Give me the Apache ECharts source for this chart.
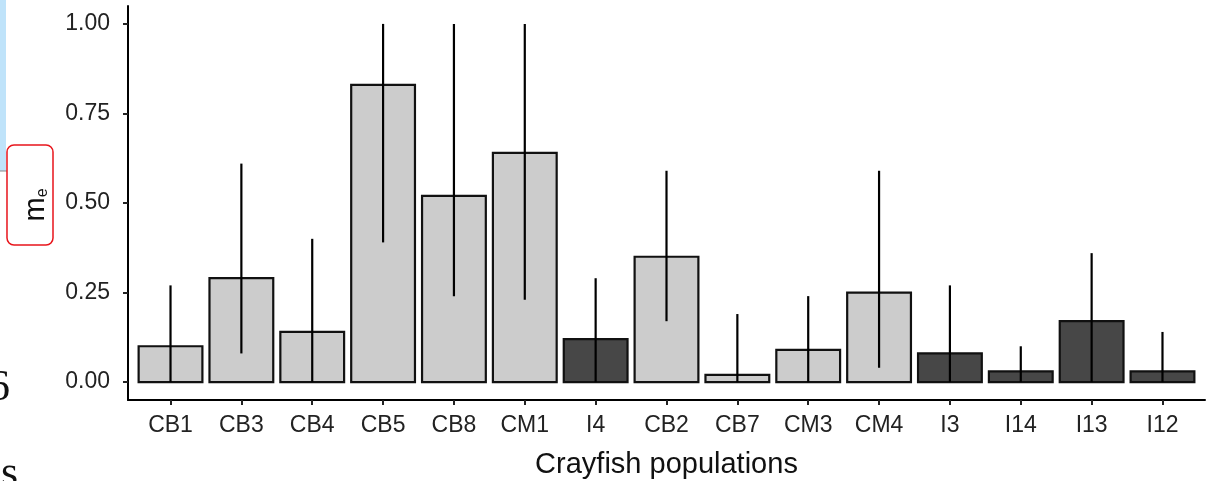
<!DOCTYPE html>
<html>
<head>
<meta charset="utf-8">
<script src="https://cdn.jsdelivr.net/npm/echarts@6/dist/echarts.min.js"></script>
<style>
  html, body { margin: 0; padding: 0; background: #fff; }
  #chart { width: 1206px; height: 481px; }
</style>
</head>
<body>
<div id="chart"></div>
<script>
// populations in plotted order
var categories = ["CB1", "CB3", "CB4", "CB5", "CB8", "CM1", "I4", "CB2", "CB7", "CM3", "CM4", "I3", "I14", "I13", "I12"];
var meValues = [0.10, 0.29, 0.14, 0.83, 0.52, 0.64, 0.12, 0.35, 0.02, 0.09, 0.25, 0.08, 0.03, 0.17, 0.03];
var lowerCI = [0.00, 0.08, 0.00, 0.39, 0.24, 0.23, 0.00, 0.17, 0.00, 0.00, 0.04, 0.00, 0.00, 0.00, 0.00];
var upperCI = [0.27, 0.61, 0.40, 1.00, 1.00, 1.00, 0.29, 0.59, 0.19, 0.24, 0.59, 0.27, 0.10, 0.36, 0.14];
// 1 = introduced (dark bars)
var groups = [0, 0, 0, 0, 0, 0, 1, 0, 0, 0, 0, 1, 1, 1, 1];
var yTicks = [0, 0.25, 0.5, 0.75, 1];

var barData = categories.map(function (c, i) {
  return [i + 1, meValues[i], groups[i]];
});
var errData = categories.map(function (c, i) {
  return [i + 1, lowerCI[i], upperCI[i]];
});
var xTicks = categories.map(function (c, i) { return i + 1; });

var chart = echarts.init(document.getElementById("chart"));

var option = {
  animation: false,
  grid: { left: 128, right: 1, top: 6, bottom: 81, outerBoundsMode: "none", containLabel: false },
  xAxis: {
    type: "value",
    min: 0.4,
    max: 15.6,
    splitLine: { show: false },
    axisLine: { show: true, onZero: false, lineStyle: { color: "#000", width: 2 } },
    axisTick: { show: true, length: 5, lineStyle: { color: "#222", width: 2 }, customValues: xTicks },
    axisLabel: {
      color: "#222",
      fontSize: 23,
      fontFamily: "Liberation Sans, Arial",
      margin: 14,
      customValues: xTicks,
      formatter: function (v) { return categories[Math.round(v) - 1]; }
    },
    name: "Crayfish populations",
    nameLocation: "middle",
    nameGap: 50,
    nameTextStyle: { color: "#111", fontSize: 29, fontFamily: "Liberation Sans, Arial" }
  },
  yAxis: {
    type: "value",
    min: -0.05,
    max: 1.05,
    splitLine: { show: false },
    axisLine: { show: true, lineStyle: { color: "#000", width: 2 } },
    axisTick: { show: true, length: 5, lineStyle: { color: "#222", width: 2 }, customValues: yTicks },
    axisLabel: {
      color: "#222",
      fontSize: 23,
      fontFamily: "Liberation Sans, Arial",
      margin: 18,
      customValues: yTicks,
      formatter: function (v) { return v.toFixed(2); }
    }
  },
  series: [
    {
      type: "custom",
      data: barData,
      renderItem: function (params, api) {
        var x = api.value(0);
        var top = api.coord([x, api.value(1)]);
        var base = api.coord([x, 0]);
        var w = api.size([0.9, 0])[0];
        return {
          type: "rect",
          shape: { x: top[0] - w / 2, y: top[1], width: w, height: base[1] - top[1] },
          style: {
            fill: api.value(2) === 1 ? "#474747" : "#CCCCCC",
            stroke: "#111",
            lineWidth: 2.2
          }
        };
      }
    },
    {
      type: "custom",
      data: errData,
      z: 3,
      renderItem: function (params, api) {
        var x = api.value(0);
        var lo = api.coord([x, api.value(1)]);
        var hi = api.coord([x, api.value(2)]);
        return {
          type: "line",
          shape: { x1: lo[0], y1: lo[1], x2: hi[0], y2: hi[1] },
          style: { stroke: "#000", lineWidth: 2.2 }
        };
      }
    }
  ],
  graphic: [
    { type: "rect", left: 0, top: 0, shape: { width: 6, height: 171 }, style: { fill: "#BFE3FA" } },
    { type: "line", shape: { x1: 0, y1: 171, x2: 7, y2: 171 }, style: { stroke: "#888", lineWidth: 1 } },
    {
      type: "rect",
      shape: { x: 7, y: 145, width: 46, height: 100, r: 7 },
      style: { fill: "#fff", stroke: "#E8141B", lineWidth: 1.5 }
    },
    {
      type: "text",
      x: 36, y: 205,
      rotation: Math.PI / 2,
      style: {
        text: "{m|m}{e|e}",
        align: "center",
        verticalAlign: "middle",
        rich: {
          m: { fontSize: 29, fontFamily: "Liberation Sans, Arial", fill: "#111" },
          e: { fontSize: 16, fontFamily: "Liberation Sans, Arial", fill: "#111", verticalAlign: "bottom" }
        }
      }
    },
    {
      type: "text", x: -12, y: 366,
      style: { text: "6", fontSize: 44, fontFamily: "Liberation Serif, Times New Roman", fill: "#111" }
    },
    {
      type: "text", x: 1, y: 452,
      style: { text: "s", fontSize: 44, fontFamily: "Liberation Serif, Times New Roman", fill: "#111" }
    }
  ]
};

chart.setOption(option);
</script>
</body>
</html>
